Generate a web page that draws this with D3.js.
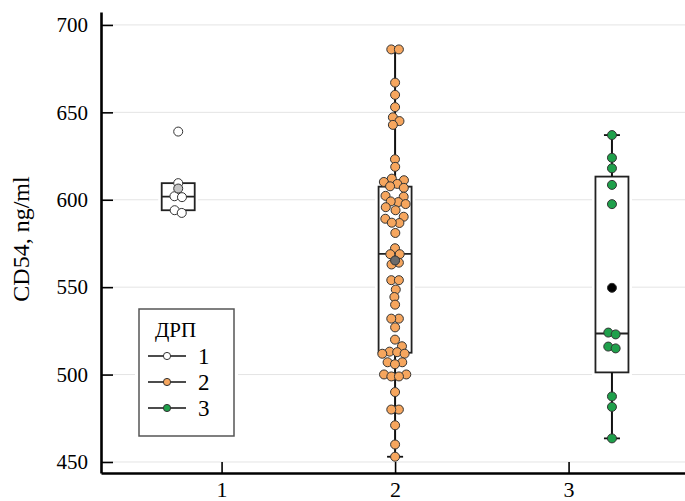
<!DOCTYPE html>
<html>
<head>
<meta charset="utf-8">
<script src="https://cdn.jsdelivr.net/npm/d3@7"></script>
<style>
  body { margin: 0; background: #fff; }
  svg text { font-family: "Liberation Serif", "Times New Roman", serif; }
</style>
</head>
<body>
<div id="chart"></div>
<script>
// Box + swarm chart, CD54 by group
const WIDTH = 685;
const HEIGHT = 501;
const MARGIN = { left: 101, top: 12, right: 0, bottom: 28 };
const SERIF = "'Liberation Serif', 'Times New Roman', serif";

// data
const groups = ["1", "2", "3"];
const groupPos = [0.75, 2, 3.25];          // where each box sits on the x axis
const group1 = [639, 609.5, 602, 601.5, 594, 592.5];
const group2 = [686, 686, 667, 660, 653, 647, 645, 643, 623, 619,
                612, 611, 610, 609, 608, 607, 602, 601, 599, 599,
                598, 596, 594, 590, 589, 587, 587, 581, 572, 569,
                569, 564, 563, 554, 554, 548, 545, 540, 532, 532,
                527, 520, 516, 513, 513, 512, 512, 507, 507, 506,
                500, 500, 499, 499, 490, 480, 480, 471, 460, 453];
const group3 = [637, 624, 618, 608.5, 597.5, 524, 523, 516, 515, 487.5, 481.5, 463.5];
const xTicks = [1, 2, 3];
const yTicks = [450, 500, 550, 600, 650, 700];

const fills = ["#ffffff", "#f6a65e", "#1fa04b"];
const meanFills = ["#c4c4c4", "#6b6b6b", "#000000"];
const R = 4.5;

const svg = d3.select("#chart").append("svg")
  .attr("width", WIDTH).attr("height", HEIGHT);

const x = d3.scaleLinear().domain([0.305, 3.671]).range([MARGIN.left, WIDTH - MARGIN.right]);
const y = d3.scaleLinear().domain([443.7, 707.4]).range([HEIGHT - MARGIN.bottom, MARGIN.top]);

// grid
svg.append("g").selectAll("line").data(yTicks).join("line")
  .attr("x1", MARGIN.left).attr("x2", WIDTH)
  .attr("y1", d => y(d)).attr("y2", d => y(d))
  .attr("stroke", "#e4e4e4").attr("stroke-width", 1);

// tukey hinges
function stats(values) {
  const s = values.slice().sort(d3.ascending);
  const n = s.length;
  const h = Math.floor((n + 1) / 2);
  const q1 = d3.median(s.slice(0, h));
  const q3 = d3.median(s.slice(n - h));
  const iqr = q3 - q1;
  const lo = d3.min(s.filter(v => v >= q1 - 1.5 * iqr));
  const hi = d3.max(s.filter(v => v <= q3 + 1.5 * iqr));
  return { q1, q3, med: d3.median(s), lo, hi, mean: d3.mean(s) };
}

// simple beeswarm with a force layout (points may overlap a little)
function swarm(values, cx) {
  const nodes = values.map(v => ({ v, x: cx, y: y(v) }));
  const sim = d3.forceSimulation(nodes)
    .force("x", d3.forceX(cx).strength(0.04))
    .force("y", d3.forceY(d => y(d.v)).strength(1))
    .force("c", d3.forceCollide(3.8).iterations(2))
    .stop();
  for (let i = 0; i < 400; i++) sim.tick();
  return nodes;
}

const allData = [group1, group2, group3];
const BOX_W = 33;

allData.forEach((vals, i) => {
  const cx = x(groupPos[i]);
  const st = stats(vals);
  const g = svg.append("g");

  // white halo + box
  g.append("rect")
    .attr("x", cx - BOX_W / 2).attr("y", y(st.q3))
    .attr("width", BOX_W).attr("height", y(st.q1) - y(st.q3))
    .attr("fill", "#fff").attr("stroke", "#fff").attr("stroke-width", 7);
  g.append("rect")
    .attr("x", cx - BOX_W / 2).attr("y", y(st.q3))
    .attr("width", BOX_W).attr("height", y(st.q1) - y(st.q3))
    .attr("fill", "#fff").attr("stroke", "#222").attr("stroke-width", 1.8);
  g.append("line")
    .attr("x1", cx - BOX_W / 2).attr("x2", cx + BOX_W / 2)
    .attr("y1", y(st.med)).attr("y2", y(st.med))
    .attr("stroke", "#222").attr("stroke-width", 1.8);

  // whiskers and caps
  [[st.q3, st.hi], [st.q1, st.lo]].forEach(([a, b]) => {
    if (Math.abs(y(a) - y(b)) < 3) return;
    g.append("line")
      .attr("x1", cx).attr("x2", cx).attr("y1", y(a)).attr("y2", y(b))
      .attr("stroke", "#111").attr("stroke-width", 2);
    g.append("line")
      .attr("x1", cx - 8).attr("x2", cx + 8).attr("y1", y(b)).attr("y2", y(b))
      .attr("stroke", "#111").attr("stroke-width", 1.8);
  });

  // points
  g.selectAll("circle.pt").data(swarm(vals, cx)).join("circle")
    .attr("class", "pt")
    .attr("cx", d => d.x).attr("cy", d => d.y).attr("r", R)
    .attr("fill", fills[i]).attr("stroke", "#333").attr("stroke-width", 1);

  // mean
  g.append("circle")
    .attr("cx", cx).attr("cy", y(st.mean)).attr("r", R)
    .attr("fill", meanFills[i]).attr("stroke", "#333").attr("stroke-width", 1);
});

// axes
const xAxis = svg.append("g")
  .attr("transform", `translate(0,${HEIGHT - MARGIN.bottom})`)
  .call(d3.axisBottom(x).tickValues(xTicks).tickFormat(d3.format("d"))
    .tickSizeInner(-11).tickSizeOuter(0).tickPadding(8));
xAxis.attr("font-family", SERIF);
xAxis.select(".domain").attr("stroke", "#000").attr("stroke-width", 2.6);
xAxis.selectAll(".tick line").attr("stroke", "#000").attr("stroke-width", 1.6);
xAxis.selectAll("text").attr("font-size", 22).attr("fill", "#000").attr("font-family", SERIF);

const yAxis = svg.append("g")
  .attr("transform", `translate(${MARGIN.left},0)`)
  .call(d3.axisLeft(y).tickValues(yTicks).tickSizeInner(-12).tickSizeOuter(0).tickPadding(13));
yAxis.attr("font-family", SERIF);
yAxis.select(".domain").attr("stroke", "#000").attr("stroke-width", 2.6);
yAxis.selectAll(".tick line").attr("stroke", "#000").attr("stroke-width", 1.6);
yAxis.selectAll("text").attr("font-size", 21).attr("fill", "#000").attr("font-family", SERIF);

svg.append("text")
  .attr("transform", "translate(29,239) rotate(-90)")
  .attr("text-anchor", "middle")
  .attr("font-family", SERIF)
  .attr("font-size", 24)
  .text("CD54, ng/ml");

// legend
const legend = svg.append("g").attr("font-family", SERIF);
legend.append("rect").attr("x", 139).attr("y", 309).attr("width", 95).attr("height", 127)
  .attr("fill", "#fff").attr("stroke", "#fff").attr("stroke-width", 8);
legend.append("rect").attr("x", 139).attr("y", 309).attr("width", 95).attr("height", 127)
  .attr("fill", "#fff").attr("stroke", "#555").attr("stroke-width", 1.5);
legend.append("text").attr("x", 155).attr("y", 337).attr("font-size", 21).text("ДРП");
const rows = legend.selectAll("g.row").data(groups).join("g")
  .attr("class", "row")
  .attr("transform", (d, i) => `translate(0,${356 + i * 26})`);
rows.append("line").attr("x1", 148).attr("x2", 186).attr("y1", 0).attr("y2", 0)
  .attr("stroke", "#111").attr("stroke-width", 1.5);
rows.append("circle").attr("cx", 167).attr("cy", 0).attr("r", 3.6)
  .attr("fill", (d, i) => fills[i]).attr("stroke", "#333").attr("stroke-width", 1);
rows.append("text").attr("x", 198).attr("y", 8).attr("font-size", 23).text(d => d);
</script>
</body>
</html>
